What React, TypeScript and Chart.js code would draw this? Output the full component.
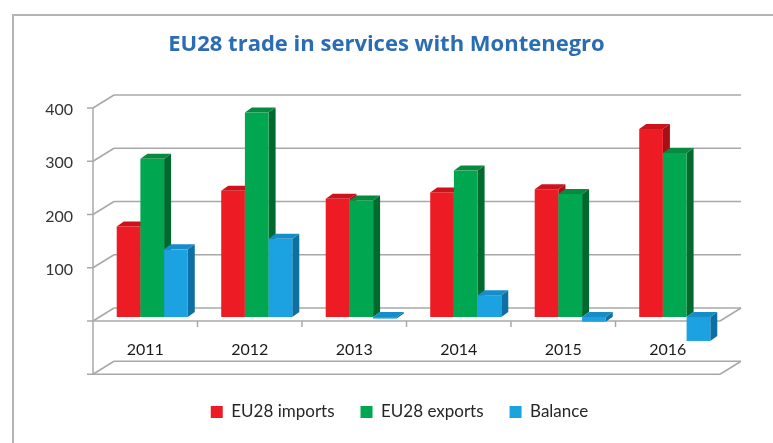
import React, { useEffect, useRef } from 'react';
import { Chart, registerables } from 'chart.js';

Chart.register(...registerables);

const categories = ['2011', '2012', '2013', '2014', '2015', '2016'];
const importsValues = [170, 237, 222, 234, 240, 353];
const exportsValues = [297, 384, 219, 275, 231, 308];
const balanceValues = [127, 147, -3, 41, -9, -45];
const seriesNames = ['EU28 imports', 'EU28 exports', 'Balance'];
const wallLevels = [-100, 0, 100, 200, 300, 400];
const titleText = 'EU28 trade in services with Montenegro';

const frontColors = ['#ED1C24', '#00A650', '#1CA2E0'];
const topColors = ['#CC121A', '#078A3E', '#168CC8'];
const sideColors = ['#A90F16', '#006A2E', '#0E6FA3'];

const WALL_DX = 21;
const WALL_DY = -13;
const BAR_DX = 7;
const BAR_DY = -4;
const BAR_DEPTH_X = 7;
const BAR_DEPTH_Y = -5;
const LEGEND_SHIFT = 13;

const framePlugin = {
  id: 'frame',
  beforeDraw(chart: any) {
    const { ctx, width, height } = chart;
    ctx.save();
    ctx.fillStyle = '#ffffff';
    ctx.fillRect(0, 0, width, height);
    ctx.strokeStyle = '#b4b4b4';
    ctx.lineWidth = 2;
    ctx.beginPath();
    ctx.moveTo(13, height);
    ctx.lineTo(13, 15);
    ctx.lineTo(width, 15);
    ctx.stroke();
    ctx.restore();
  },
};

const legendShiftPlugin = {
  id: 'legendShift',
  afterLayout(chart: any) {
    if (chart.legend) {
      chart.legend.left += LEGEND_SHIFT;
      chart.legend.right += LEGEND_SHIFT;
    }
  },
};

const bars3dPlugin = {
  id: 'bars3d',
  beforeDatasetsDraw(chart: any) {
    const { ctx, chartArea } = chart;
    const { left, right } = chartArea;
    const yScale = chart.scales.y;
    const xScale = chart.scales.x;
    const line = (x1: number, y1: number, x2: number, y2: number) => {
      ctx.beginPath();
      ctx.moveTo(x1, y1);
      ctx.lineTo(x2, y2);
      ctx.stroke();
    };
    ctx.save();
    ctx.strokeStyle = '#a8a8a8';
    ctx.lineWidth = 1.5;
    ctx.lineCap = 'butt';
    wallLevels.forEach((v) => {
      const py = yScale.getPixelForValue(v);
      line(left + WALL_DX, py + WALL_DY, right + WALL_DX, py + WALL_DY);
      line(left, py, left + WALL_DX, py + WALL_DY);
      line(left - 6, py, left, py);
    });
    const yTop = yScale.getPixelForValue(400);
    const yZero = yScale.getPixelForValue(0);
    const yFloor = yScale.getPixelForValue(-100);
    line(left, yTop, left, yFloor);
    line(left, yZero, right, yZero);
    line(right, yZero, right + WALL_DX, yZero + WALL_DY);
    line(left, yFloor, right, yFloor);
    line(right, yFloor, right + WALL_DX, yFloor + WALL_DY);
    for (let i = 1; i < categories.length; i++) {
      const px = (xScale.getPixelForValue(i - 1) + xScale.getPixelForValue(i)) / 2;
      line(px, yZero, px, yZero + 6);
    }

    for (let i = 0; i < categories.length; i++) {
      for (let d = 0; d < chart.data.datasets.length; d++) {
        const el = chart.getDatasetMeta(d).data[i];
        if (!el) continue;
        const p = el.getProps(['x', 'y', 'base', 'width'], true);
        const l = p.x - p.width / 2 + BAR_DX;
        const r = p.x + p.width / 2 + BAR_DX;
        const t = Math.min(p.y, p.base) + BAR_DY;
        const b = Math.max(p.y, p.base) + BAR_DY;
        ctx.fillStyle = sideColors[d];
        ctx.beginPath();
        ctx.moveTo(r, t);
        ctx.lineTo(r + BAR_DEPTH_X, t + BAR_DEPTH_Y);
        ctx.lineTo(r + BAR_DEPTH_X, b + BAR_DEPTH_Y);
        ctx.lineTo(r, b);
        ctx.closePath();
        ctx.fill();
        ctx.fillStyle = topColors[d];
        ctx.beginPath();
        ctx.moveTo(l, t);
        ctx.lineTo(l + BAR_DEPTH_X, t + BAR_DEPTH_Y);
        ctx.lineTo(r + BAR_DEPTH_X, t + BAR_DEPTH_Y);
        ctx.lineTo(r, t);
        ctx.closePath();
        ctx.fill();
        ctx.fillStyle = frontColors[d];
        ctx.fillRect(l, t, r - l, Math.max(b - t, 1));
      }
    }
    ctx.restore();
    return false;
  },
};

export default function App() {
  const canvasRef = useRef<HTMLCanvasElement | null>(null);

  useEffect(() => {
    if (!canvasRef.current) return;
    const chart = new Chart(canvasRef.current, {
      type: 'bar',
      data: {
        labels: categories,
        datasets: [
          { label: seriesNames[0], data: importsValues, backgroundColor: frontColors[0], borderWidth: 0 },
          { label: seriesNames[1], data: exportsValues, backgroundColor: frontColors[1], borderWidth: 0 },
          { label: seriesNames[2], data: balanceValues, backgroundColor: frontColors[2], borderWidth: 0 },
        ],
      },
      options: {
        responsive: false,
        animation: false,
        devicePixelRatio: 1,
        categoryPercentage: 0.68,
        barPercentage: 1,
        layout: { padding: { left: 0, right: 0, top: 0, bottom: 12.5 } },
        plugins: {
          title: {
            display: true,
            text: titleText,
            color: '#2B6DB4',
            font: { family: 'Open Sans', size: 22, weight: 'bold', lineHeight: 1.2 },
            padding: { top: 31.8, bottom: 49.8 },
          },
          legend: {
            position: 'bottom',
            labels: {
              boxWidth: 12,
              boxHeight: 12,
              padding: 26,
              color: '#262626',
              font: { family: 'Lato', size: 17 },
            },
          },
          tooltip: { enabled: false },
        },
        scales: {
          x: {
            grid: { display: false, drawTicks: false, tickLength: 0 },
            border: { display: false },
            ticks: { padding: 19, color: '#1a1a1a', font: { family: 'Lato', size: 16 } },
            afterFit: (s: any) => { s.height = 56.5; },
          },
          y: {
            min: 0,
            max: 400,
            grid: { display: false, drawTicks: false, tickLength: 0 },
            border: { display: false },
            ticks: {
              stepSize: 100,
              padding: 20,
              labelOffset: 2,
              color: '#333333',
              font: { family: 'Lato', size: 16 },
              callback: (v: any) => (Number(v) > 0 ? String(v) : ''),
            },
            afterFit: (s: any) => { s.width = 93; },
          },
          y2: {
            position: 'right',
            grid: { display: false, drawTicks: false, tickLength: 0 },
            border: { display: false },
            ticks: { display: false },
            afterFit: (s: any) => { s.width = 53; },
          },
        },
      } as any,
      plugins: [framePlugin, legendShiftPlugin, bars3dPlugin],
    });
    return () => chart.destroy();
  }, []);

  return (
    <div style={{ position: 'fixed', left: 0, top: 0, width: 773, height: 443, background: '#fff' }}>
      <canvas ref={canvasRef} width={773} height={443} style={{ display: 'block' }} />
    </div>
  );
}
